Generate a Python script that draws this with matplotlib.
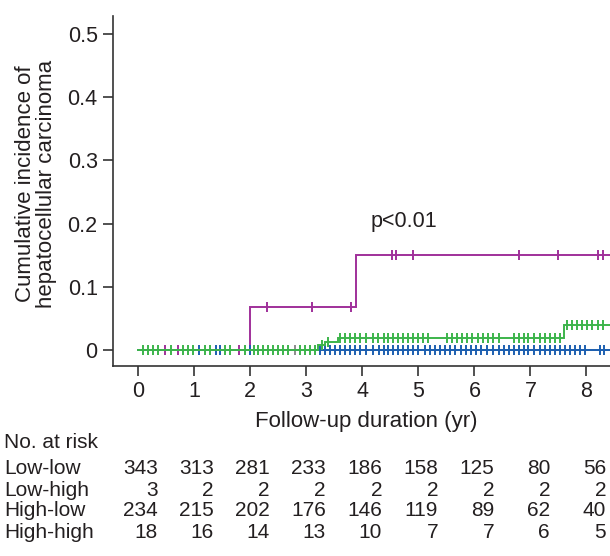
import numpy as np
import matplotlib
matplotlib.use("Agg")
import matplotlib.pyplot as plt
import matplotlib.transforms as mtransforms

plt.rcParams['font.family'] = ['Liberation Sans', 'DejaVu Sans']

# ---------------- data ----------------
groups = ["Low-low", "Low-high", "High-low", "High-high"]
colors = ["#1c5fb0", "#8c8c8c", "#3cb44b", "#a0309a"]

# step curves: event times and cumulative incidence after each time
lowlow_t = [0.0]
lowlow_y = [0.0]
lowhigh_t = [0.0]
lowhigh_y = [0.0]
highlow_t = [0.0, 3.21, 3.33, 3.57, 7.59]
highlow_y = [0.0, 0.008, 0.013, 0.019, 0.039]
highhigh_t = [0.0, 2.00, 3.89]
highhigh_y = [0.0, 0.068, 0.151]
end_time = 8.42

# censoring times
lowlow_c = [1.08, 1.38, 1.46, 1.99, 3.24, 3.33, 3.42, 3.51, 3.60, 3.69, 3.78, 3.87,
            3.96, 4.07, 4.19, 4.29, 4.38, 4.46, 4.55, 4.64, 4.73, 4.82, 4.91, 5.00,
            5.11, 5.20, 5.30, 5.39, 5.48, 5.57, 5.66, 5.76, 5.85, 5.94, 6.03, 6.12,
            6.23, 6.34, 6.43, 6.52, 6.61, 6.70, 6.79, 6.88, 6.96, 7.07, 7.17, 7.26,
            7.35, 7.44, 7.53, 7.62, 7.71, 7.80, 7.89, 7.98, 8.24, 8.32]
lowhigh_c = [2.80]
highlow_c = [0.09, 0.18, 0.27, 0.36, 0.58, 0.80, 0.89, 0.98, 1.19, 1.28, 1.55, 1.64,
             1.90, 2.06, 2.14, 2.23, 2.32, 2.41, 2.50, 2.59, 2.68, 2.89, 2.98, 3.07,
             3.16, 3.27, 3.39, 3.60, 3.69, 3.78, 3.87, 3.96, 4.07, 4.19, 4.28, 4.38,
             4.46, 4.55, 4.64, 4.73, 4.82, 4.91, 5.00, 5.09, 5.18, 5.51, 5.60, 5.69,
             5.77, 5.86, 5.95, 6.07, 6.16, 6.25, 6.34, 6.43, 6.70, 6.79, 6.88, 6.96,
             7.07, 7.17, 7.26, 7.35, 7.44, 7.53, 7.65, 7.74, 7.83, 7.92, 8.01, 8.10,
             8.20, 8.30]
highhigh_c = [0.47, 0.70, 1.80, 2.29, 3.10, 3.80, 4.52, 4.60, 4.90, 6.80, 7.49,
              8.20, 8.29]

# numbers at risk
risk_times = [0, 1, 2, 3, 4, 5, 6, 7, 8]
risk_lowlow = [343, 313, 281, 233, 186, 158, 125, 80, 56]
risk_lowhigh = [3, 2, 2, 2, 2, 2, 2, 2, 2]
risk_highlow = [234, 215, 202, 176, 146, 119, 89, 62, 40]
risk_highhigh = [18, 16, 14, 13, 10, 7, 7, 6, 5]

xticks = [0, 1, 2, 3, 4, 5, 6, 7, 8]
yticks = [0, 0.1, 0.2, 0.3, 0.4, 0.5]
ytick_labels = ["0", "0.1", "0.2", "0.3", "0.4", "0.5"]

# ---------------- figure ----------------
W, H = 610, 556
fig = plt.figure(figsize=(W / 100, H / 100), dpi=100)
ax = fig.add_axes([113 / W, 1 - 366 / H, (W - 113) / W, (366 - 15.5) / H])

txt_color = "#231f20"
fs_tick = 15.5
fs_lab = 16
fs_tab = 15

curves = [
    (lowhigh_t, lowhigh_y, lowhigh_c, colors[1], 1),
    (highhigh_t, highhigh_y, highhigh_c, colors[3], 2),
    (lowlow_t, lowlow_y, lowlow_c, colors[0], 3),
    (highlow_t, highlow_y, highlow_c, colors[2], 4),
]
for t, y, c, col, z in curves:
    tt = list(t) + [end_time]
    yy = list(y) + [y[-1]]
    ax.step(tt, yy, where="post", color=col, lw=1.4, zorder=z, solid_joinstyle="miter")
    ci = np.searchsorted(np.array(t), np.array(c), side="right") - 1
    cy = np.array(y)[ci]
    ax.plot(c, cy, linestyle="none", marker="|", markersize=6.5, markeredgewidth=1.4,
            color=col, zorder=z)

ax.text(4.74, 0.2025, "p<0.01", ha="center", va="center", fontsize=fs_tick,
        color=txt_color)

ax.set_xlim(-0.452, 8.42)
ax.set_ylim(-0.0253, 0.529)
ax.set_xticks(xticks)
ax.set_xticklabels([str(v) for v in xticks])
ax.set_yticks(yticks)
ax.set_yticklabels(ytick_labels)
for s in ["top", "right"]:
    ax.spines[s].set_visible(False)
for s in ["left", "bottom"]:
    ax.spines[s].set_color("#333333")
    ax.spines[s].set_linewidth(1.2)
ax.tick_params(axis="both", direction="out", length=7, width=1.2, color="#333333",
               labelsize=fs_tick, labelcolor=txt_color, pad=4)

fig.text(366 / W, 1 - 422 / H, "Follow-up duration (yr)",
         ha="center", va="center", fontsize=fs_lab, color=txt_color)
fig.text(36 / W, 1 - 184 / H, "Cumulative incidence of\nhepatocellular carcinoma",
         rotation=90, ha="center", va="center", fontsize=fs_lab, color=txt_color,
         linespacing=0.95, multialignment="center")

# at-risk table
trans = mtransforms.blended_transform_factory(ax.transData, fig.transFigure)
fig.text(4 / W, 1 - 443 / H, "No. at risk", ha="left", va="center", fontsize=fs_tab,
         color=txt_color)
rows = [risk_lowlow, risk_lowhigh, risk_highlow, risk_highhigh]
row_y = [468, 490, 511, 533]
for name, vals, yp in zip(groups, rows, row_y):
    fig.text(4 / W, 1 - yp / H, name, ha="left", va="center", fontsize=fs_tab,
             color=txt_color)
    for tx, v in zip(risk_times, vals):
        ax.text(tx + 0.35, 1 - yp / H, str(v), transform=trans, ha="right",
                va="center", fontsize=fs_tab, color=txt_color, clip_on=False)

fig.savefig("out.png", dpi=100)
